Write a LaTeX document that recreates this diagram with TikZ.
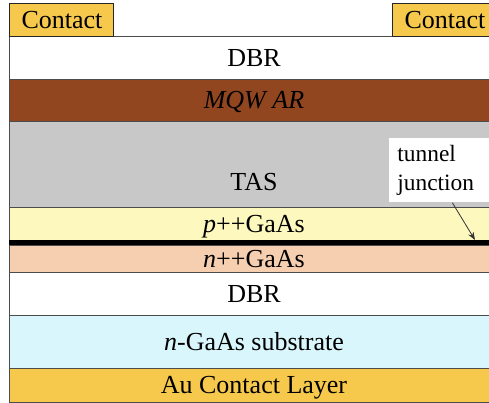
\documentclass[tikz,border=0pt]{standalone}
\usepackage{fontspec}
\setmainfont{Liberation Serif}
\newfontfamily\layerfont{Liberation Serif}
\usepackage{xcolor}
\usetikzlibrary{arrows.meta,positioning}

\definecolor{contactgold}{RGB}{246,201,76}
\definecolor{mqwbrown}{RGB}{145,70,31}
\definecolor{tasgray}{RGB}{200,200,200}
\definecolor{pyellow}{RGB}{253,248,190}
\definecolor{npeach}{RGB}{245,207,175}
\definecolor{subcyan}{RGB}{216,246,251}

\begin{document}
\begin{tikzpicture}[
    layer/.style={draw=black!70, line width=0.5pt, minimum width=244pt, inner sep=0pt, outer sep=0pt,
        anchor=north west, text height=8.6pt, text depth=0pt, font=\layerfont\fontsize{13}{15}\selectfont},
    tab/.style={draw=black!85, line width=0.5pt, fill=contactgold, minimum width=52pt, minimum height=16.5pt,
        inner sep=0pt, outer sep=0pt, anchor=north west, text height=8.6pt, text depth=0pt,
        font=\layerfont\fontsize{13}{15}\selectfont},
    tunnelbox/.style={fill=white, anchor=north west, align=left, text width=47pt, inner xsep=4pt,
        inner ysep=3pt, minimum height=32pt, font=\layerfont\fontsize{11.7}{14.5}\selectfont},
    pointer/.style={-{Stealth[length=4pt,width=3pt]}, line width=0.4pt, black!80}
]
\useasboundingbox (0,0) rectangle (244.5pt,-201.5pt);

% epitaxial stack, top to bottom
\node[layer, fill=white, minimum height=21.5pt] (dbrtop) at (5pt,-18pt) {DBR};
\node[layer, fill=mqwbrown, minimum height=21pt, below=0pt of dbrtop] (mqw) {\textit{MQW AR}};
\node[layer, fill=tasgray, minimum height=43pt, text height=26pt, below=0pt of mqw] (tas) {TAS};
\node[layer, fill=pyellow, minimum height=16.5pt, below=0pt of tas] (pgaas) {\textit{p}++GaAs};
\node[layer, fill=black, draw=black, minimum height=2.5pt, text height=0pt, below=0pt of pgaas] (junc) {};
\node[layer, fill=npeach, minimum height=13.5pt, below=0pt of junc] (ngaas) {\textit{n}++GaAs};
\node[layer, fill=white, minimum height=21.5pt, below=0pt of ngaas] (dbrbot) {DBR};
\node[layer, fill=subcyan, minimum height=26.5pt, below=0pt of dbrbot] (subs) {\textit{n}-GaAs substrate};
\node[layer, fill=contactgold, minimum height=17pt, below=0pt of subs] (aucont) {Au Contact Layer};

% top contacts
\node[tab] (contl) at (5pt,-1.5pt) {Contact};
\node[tab] (contr) at (196.5pt,-1.5pt) {Contact};

% label
\node[tunnelbox] (tunnel) at (194.5pt,-69pt) {tunnel\\junction};
\draw[pointer] ([xshift=4pt]tunnel.south) -- ([xshift=-11.5pt]junc.north east);
\end{tikzpicture}
\end{document}
